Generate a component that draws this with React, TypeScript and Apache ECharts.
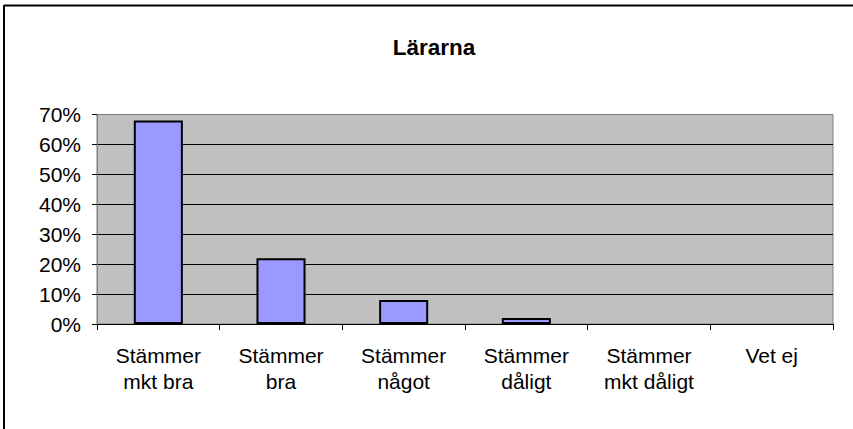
import React, { useEffect, useRef } from "react";
import * as echarts from "echarts";

const categories = [
  "Stämmer\nmkt bra",
  "Stämmer\nbra",
  "Stämmer\nnågot",
  "Stämmer\ndåligt",
  "Stämmer\nmkt dåligt",
  "Vet ej",
];
const values = [68, 22, 8, 2, 0, 0];
const title = "Lärarna";

export default function App() {
  const ref = useRef<HTMLDivElement>(null);
  useEffect(() => {
    if (!ref.current) return;
    const chart = echarts.init(ref.current, null, { renderer: "svg" });
    const font = "'Liberation Sans', Arial, sans-serif";
    chart.setOption({
      animation: false,
      backgroundColor: "#ffffff",
      textStyle: { fontFamily: font },
      grid: {
        left: 97,
        right: 20,
        top: 114.5,
        bottom: 105,
        show: true,
        backgroundColor: "#C0C0C0",
        borderColor: "#808080",
        borderWidth: 1,
      },
      graphic: [
        {
          type: "line",
          shape: { x1: 4, y1: 5.5, x2: 853, y2: 5.5 },
          style: { stroke: "#000", lineWidth: 2 },
        },
        {
          type: "line",
          shape: { x1: 4, y1: 5, x2: 4, y2: 429 },
          style: { stroke: "#000", lineWidth: 2 },
        },
        {
          type: "text",
          x: 434,
          y: 47,
          style: {
            text: title,
            font: `bold 22.5px ${font}`,
            fill: "#000",
            textAlign: "center",
            textVerticalAlign: "middle",
          },
        },
      ],
      xAxis: {
        type: "category",
        data: categories,
        boundaryGap: true,
        axisLine: { show: true, lineStyle: { color: "#000", width: 1 } },
        axisTick: { show: true, length: 6, alignWithLabel: false, lineStyle: { color: "#000" } },
        axisLabel: {
          color: "#000",
          fontSize: 21,
          lineHeight: 26,
          margin: 18,
          interval: 0,
          fontFamily: font,
        },
        splitLine: { show: false },
      },
      yAxis: {
        type: "value",
        min: 0,
        max: 70,
        interval: 10,
        axisLine: { show: true, lineStyle: { color: "#808080", width: 1 } },
        axisTick: { show: true, length: 5, lineStyle: { color: "#000" } },
        axisLabel: {
          color: "#000",
          fontSize: 21,
          margin: 16,
          formatter: "{value}%",
          fontFamily: font,
        },
        splitLine: {
          show: true,
          showMaxLine: false,
          lineStyle: { color: "#000", width: 1 },
        },
      },
      series: [
        {
          type: "bar",
          data: values.map((v) => (v === 0 ? "-" : v)),
          barWidth: "40%",
          z: 1,
          itemStyle: { color: "#9999FF", borderColor: "#000", borderWidth: 2 },
        },
      ],
    });
    return () => chart.dispose();
  }, []);
  return (
    <div
      ref={ref}
      style={{ position: "absolute", left: 0, top: 0, width: 853, height: 429 }}
    />
  );
}
